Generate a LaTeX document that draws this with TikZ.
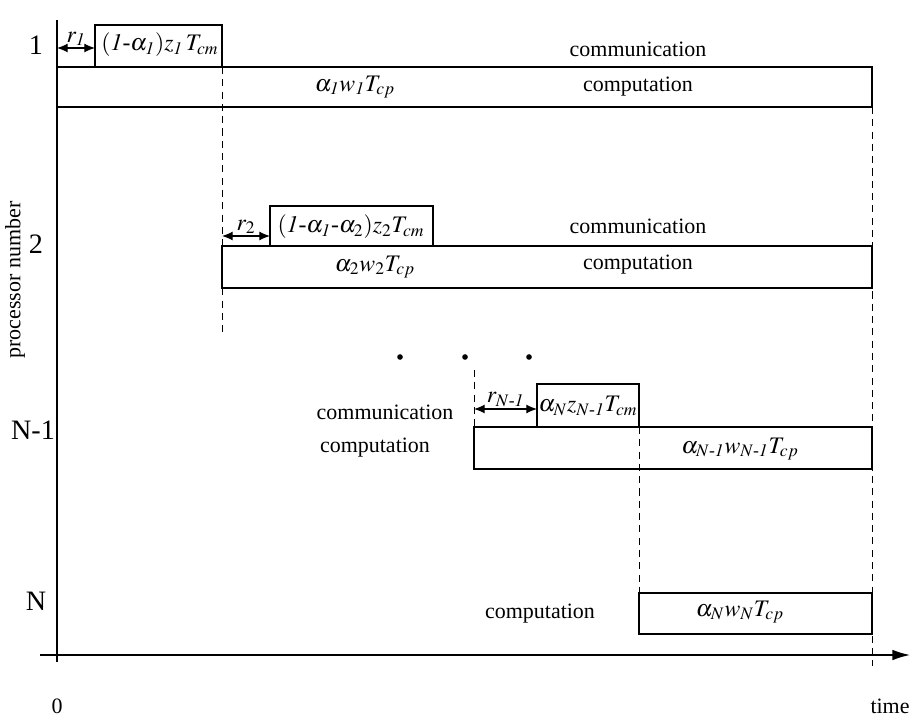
\documentclass[tikz,border=0pt]{standalone}
\usepackage{amsmath}
\usepackage{mathptmx}
\usepackage{fontspec}
\setmainfont{Liberation Serif}
\usetikzlibrary{arrows.meta}

\newcommand{\hy}{\text{-}}

\begin{document}
\begin{tikzpicture}[x=0.02cm,y=-0.02cm,font=\fontsize{12.5}{15}\selectfont,
		box/.style={line width=0.6pt},
		span/.style={line width=0.6pt,{Latex[length=6pt,width=5pt]}-{Latex[length=6pt,width=5pt]}},
		guide/.style={line width=0.5pt,dash pattern=on 4pt off 3pt},
		lab/.style={inner sep=1pt,font=\fontsize{13.5}{16}\selectfont},
		pnum/.style={font=\fontsize{16}{18}\selectfont}]
			\useasboundingbox (0,0) rectangle (911,719);
			% axes
			\coordinate (yt) at (57,20);
			\coordinate (yb) at (57,662);
			\coordinate (xl) at (40,655);
			\coordinate (xr) at (910,655);
			\draw[line width=0.8pt] (yt) -- (yb);
			\draw[line width=0.8pt,-{Latex[length=10pt,width=6pt]}] (xl) -- (xr);
			\node (zero) at (57,706) {0};
			\node (time) at (890,706) {time};
			\node[rotate=90] (pn) at (15,280) {processor number};
			\node[pnum] (p1) at (36,45) {1};
			\node[pnum] (p2) at (36,244) {2};
			\node[pnum] (pN1) at (33,430) {N-1};
			\node[pnum] (pN) at (36,601) {N};
			% dashed time marks
			\draw[guide] (222,67) -- (222,333);
			\draw[guide] (474,370) -- (474,427);
			\draw[guide] (639,427) -- (639,593);
			\draw[guide] (872,107) -- (872,666);
			% processor 1
			\draw[box] (95,25) rectangle (222,67);
			\draw[box] (57,67) rectangle (872,107);
			\node[lab] (cm1) at (160,45) {$(\mathit{1}\hy\alpha_{\mathit{1}})z_{\mathit{1}}\,T_{cm}$};
			\node[lab] (cp1) at (355,87) {$\alpha_{\mathit{1}}w_{\mathit{1}}T_{cp}$};
			\coordinate (a1) at (57,48);
			\coordinate (b1) at (95,48);
			\draw[span] (a1) -- node[lab,above=0pt] {$r_{\mathit{1}}$} (b1);
			\node (com1) at (638,49) {communication};
			\node (cmp1) at (638,87) {computation};
			% processor 2
			\draw[box] (270,206) rectangle (433,246);
			\draw[box] (222,246) rectangle (872,288);
			\node[lab] (cm2) at (351,227) {$(\mathit{1}\hy\alpha_{\mathit{1}}\hy\alpha_2)z_2T_{cm}$};
			\node[lab] (cp2) at (375,267) {$\alpha_2w_2T_{cp}$};
			\coordinate (a2) at (222,236);
			\coordinate (b2) at (270,236);
			\draw[span] (a2) -- node[lab,above=0pt] {$r_2$} (b2);
			\node (com2) at (638,226) {communication};
			\node (cmp2) at (638,265) {computation};
			% dots
			\foreach \x in {400,465,529}{
				\fill (\x,357) circle (1.6pt);
			}
			% processor N-1
			\draw[box] (537,384) rectangle (639,427);
			\draw[box] (474,427) rectangle (872,469);
			\node[lab] (cmN1) at (588,406) {$\alpha_Nz_{N\hy\mathit{1}}T_{cm}$};
			\node[lab] (cpN1) at (740,449) {$\alpha_{N\hy\mathit{1}}w_{N\hy\mathit{1}}T_{cp}$};
			\coordinate (aN1) at (474,409);
			\coordinate (bN1) at (537,409);
			\draw[span] (aN1) -- node[lab,above=0pt] {$r_{N\hy\mathit{1}}$} (bN1);
			\node (comN1) at (385,412) {communication};
			\node (cmpN1) at (375,448) {computation};
			% processor N
			\draw[box] (639,593) rectangle (872,634);
			\node[lab] (cpN) at (740,612) {$\alpha_Nw_NT_{cp}$};
			\node (cmpN) at (540,614) {computation};
		\end{tikzpicture}
\end{document}
